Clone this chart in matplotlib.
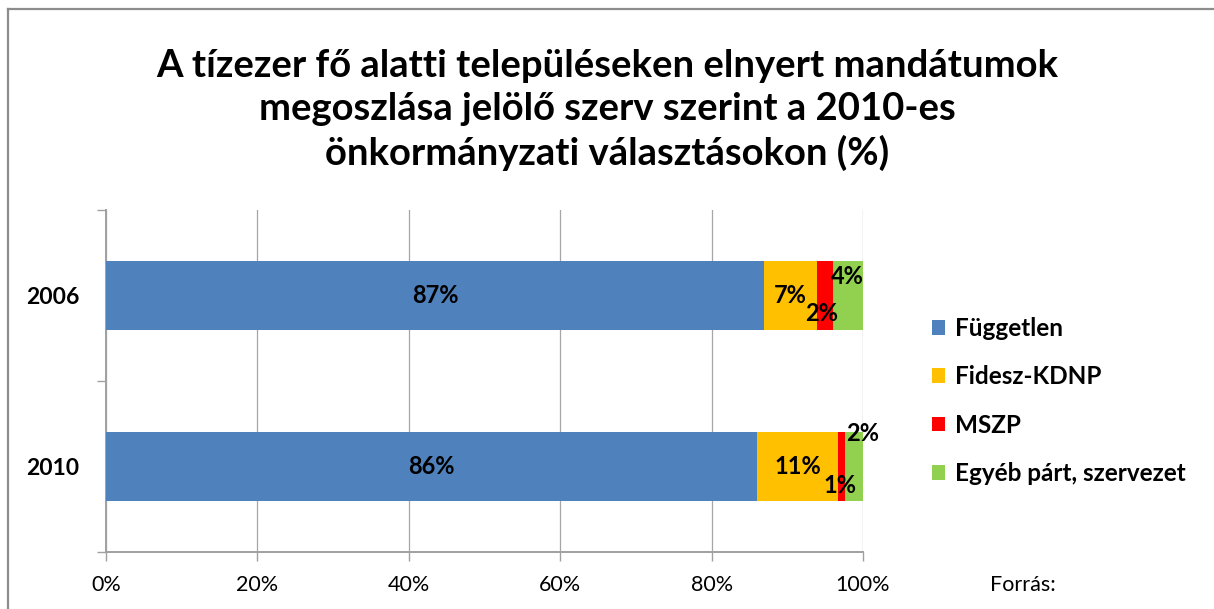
from matplotlib import pyplot as plt
from matplotlib.lines import Line2D
import numpy as np

plt.rcParams['font.family'] = ['Lato', 'DejaVu Sans']

# adatok
years = ['2010', '2006']
parties = ['Független', 'Fidesz-KDNP', 'MSZP', 'Egyéb párt, szervezet']
independent = [86.0, 86.9]
fidesz = [10.7, 7.0]
mszp = [0.9, 2.1]
other = [2.4, 4.0]
labels = [['86%', '87%'], ['11%', '7%'], ['1%', '2%'], ['2%', '4%']]

colors = ['#4F81BD', '#FFC000', '#FF0000', '#92D050']
# címke eltolás (pont) sorozatonként, évenként
offsets = [[(0, 0), (0, 0)], [(0, 0), (0, 0)], [(-1, -14), (-2, -13)], [(6, 24), (0, 14)]]

fig = plt.figure(figsize=(12.14, 6.09), dpi=100)
ax = fig.add_axes([106 / 1214, 1 - 552 / 609, (863 - 106) / 1214, (552 - 210) / 609])

y = np.arange(len(years))
left = np.zeros(len(years))
series = [independent, fidesz, mszp, other]
for i in range(len(series)):
    vals = np.array(series[i])
    ax.barh(y, vals, left=left, height=0.4, color=colors[i], label=parties[i], zorder=3)
    for j in range(len(years)):
        ax.annotate(labels[i][j], (left[j] + vals[j] / 2, y[j]),
                    xytext=offsets[i][j], textcoords='offset points',
                    ha='center', va='center', fontsize=17, fontweight='bold', zorder=4)
    left = left + vals

ax.set_xlim(0, 100)
ax.set_ylim(-0.5, 1.5)
ax.set_xticks(np.arange(0, 101, 20))
ax.set_xticklabels([str(v) + '%' for v in range(0, 101, 20)], fontsize=15.5)
ax.set_yticks([-0.5, 0.5, 1.5])
ax.set_yticklabels([])
ax.set_yticks(y, minor=True)
ax.set_yticklabels(years, minor=True, fontsize=16.5, fontweight='bold')
ax.tick_params(axis='y', which='minor', length=0, pad=19)
ax.tick_params(axis='both', which='major', length=6.5, width=1, color='#a0a0a0', direction='out')
ax.tick_params(axis='x', pad=10)
ax.grid(axis='x', color='#a6a6a6', linewidth=0.9, zorder=0)
for s in ['top', 'right']:
    ax.spines[s].set_visible(False)
for s in ['left', 'bottom']:
    ax.spines[s].set_color('#a0a0a0')
    ax.spines[s].set_linewidth(1.4)

ax.legend(loc='upper left', bbox_to_anchor=(932 / 1214, 1 - 317 / 609), bbox_transform=fig.transFigure,
          frameon=False, prop={'weight': 'bold', 'size': 17.5},
          handlelength=0.55, handleheight=0.55, handletextpad=0.4, labelspacing=1.04,
          borderaxespad=0, borderpad=0)

fig.text(0.5, 1 - 110 / 609, 'A tízezer fő alatti településeken elnyert mandátumok\n'
         'megoszlása jelölő szerv szerint a 2010-es\nönkormányzati választásokon (%)',
         ha='center', va='center', fontsize=27.5, fontweight='bold', linespacing=1.31)
fig.text(990 / 1214, 1 - 585 / 609, 'Forrás:', ha='left', va='center', fontsize=15.5)

# keret
fig.add_artist(Line2D([8 / 1214, 1], [1 - 9 / 609, 1 - 9 / 609], color='#8c8c8c', linewidth=1.6))
fig.add_artist(Line2D([8 / 1214, 8 / 1214], [0, 1 - 9 / 609], color='#8c8c8c', linewidth=1.6))

plt.savefig('out.png', dpi=100)
